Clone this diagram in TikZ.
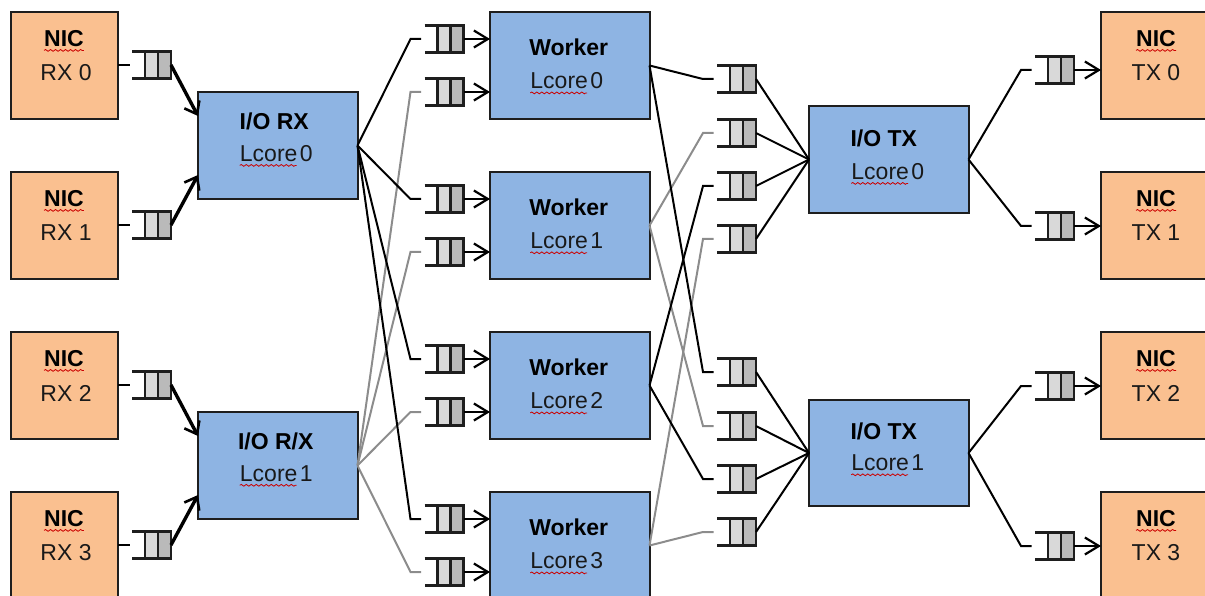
\documentclass[tikz,border=0pt]{standalone}
\usepackage{fontspec}
\setmainfont{Liberation Sans}
\usetikzlibrary{arrows.meta,decorations.pathmorphing,calc}
\definecolor{nicfill}{HTML}{FAC090}
\definecolor{corefill}{HTML}{8EB4E3}
\definecolor{edge}{HTML}{1E1E1E}
\definecolor{greyline}{HTML}{8C8C8C}
\tikzset{
  x=1pt,y=-1pt,
  box/.style={draw=edge,line width=2pt,inner sep=0pt,outer sep=0pt,anchor=north west},
  nicbox/.style={box,fill=nicfill,minimum width=107pt,minimum height=107pt},
  corebox/.style={box,fill=corefill,minimum width=159.5pt,minimum height=107pt},
  label/.style={font=\fontsize{23}{23}\selectfont,inner sep=0pt,text=black!90},
  blabel/.style={label,font=\fontsize{23}{23}\selectfont\bfseries,text=black},
  queue/.style={minimum width=39pt,minimum height=27pt,inner sep=0pt,outer sep=0pt},
  qline/.style={draw=edge,line width=2.2pt},
  blk/.style={draw=black,line width=2pt},
  gry/.style={draw=greyline,line width=2pt},
  inarrow/.style={blk,-{Straight Barb[length=14pt,width=17pt,line width=2.2pt]}},
  fatarrow/.style={draw=black,line width=3.4pt,-{Straight Barb[length=11pt,width=17pt,line width=2.6pt]}},
  squig/.style={draw=red!80!black,line width=.8pt,decorate,decoration={snake,amplitude=.9pt,segment length=5pt}}
}
% \qnode{name}{left x}{centre y}
\newcommand{\qnode}[3]{%
  \node[queue,anchor=west] (#1) at (#2,#3) {};
  \fill[black!15] ([xshift=13pt]#1.south west) rectangle ([xshift=26pt]#1.north west);
  \fill[black!27] ([xshift=26pt]#1.south west) rectangle (#1.north east);
  \draw[qline] (#1.north west) -- (#1.north east) -- (#1.south east) -- (#1.south west);
  \draw[qline] ([xshift=13pt]#1.north west) -- ([xshift=13pt]#1.south west);
  \draw[qline] ([xshift=26pt]#1.north west) -- ([xshift=26pt]#1.south west);
}
% \corelbl{box name}{title}{number}{title dx}{title dy}{sub dx}{sub dy}
\newcommand{\corelbl}[7]{%
  \node[blabel] (#1t) at ($(#1.center)+(#4,#5)$) {#2};
  \node[label] (#1l) at ($(#1.center)+(#6,#7)$) {Lcore\hspace{.1em}#3};
  \draw[squig] ($(#1l.base west)+(0,4)$) -- ++(57,0);
}
\newcommand{\niclbl}[2]{%
  \node[blabel] (#1t) at ($(#1.north west)+(#2,26.5)$) {NIC};
  \draw[squig] ($(#1t.base west)+(0,4)$) -- ++(40,0);
}
\newcommand{\elbow}[3]{\draw[#1] (#2) -- ([xshift=-14pt]#3.west) -- ([xshift=-3.5pt]#3.west);}
\begin{document}
\begin{tikzpicture}
\clip (0,0) rectangle (1205,596);
% NIC RX
\foreach \n/\y/\t in {0/12/RX 0,1/172/RX 1,2/332/RX 2,3/492/RX 3}{
  \node[nicbox] (rx\n) at (11,\y) {};
  \niclbl{rx\n}{53}
  \node[label] (rx\n l) at ($(rx\n.north west)+(55,61)$) {\t};
}
% NIC TX
\foreach \n/\y/\t in {0/12/TX 0,1/172/TX 1,2/332/TX 2,3/492/TX 3}{
  \node[nicbox,minimum width=114pt] (tx\n) at (1101,\y) {};
  \niclbl{tx\n}{55}
  \node[label] (tx\n l) at ($(tx\n.north west)+(55,61)$) {\t};
}
% Core boxes
\node[corebox] (iorx0) at (198,92) {};  \corelbl{iorx0}{I/O RX}{0}{-3.5}{-24}{-1.5}{8}
\node[corebox] (iorx1) at (198,412) {}; \corelbl{iorx1}{I/O R/X}{1}{-2}{-24}{-1.5}{8}
\foreach \n/\y in {0/12,1/172,2/332,3/492}{
  \node[corebox] (w\n) at (490,\y) {};
  \corelbl{w\n}{Worker}{\n}{-1}{-18}{-3}{15.5}
}
\node[corebox] (iotx0) at (809,106) {}; \corelbl{iotx0}{I/O TX}{0}{-5}{-21}{-1}{12}
\node[corebox,minimum height=106pt] (iotx1) at (809,400) {}; \corelbl{iotx1}{I/O TX}{1}{-5}{-22}{-1}{10}
% Queues
\foreach \n/\y in {0/65,1/225,2/385,3/545}{\qnode{qr\n}{132}{\y}}
\foreach \n/\y in {a/39,b/92,c/199,d/252,e/359,f/412,g/519,h/572}{\qnode{qw\n}{424.5}{\y}}
\foreach \n/\y in {a/79,b/133,c/186,d/239,e/372,f/426,g/479,h/532}{\qnode{qo\n}{717}{\y}}
\foreach \n/\y in {0/70,1/226,2/386,3/546}{\qnode{qt\n}{1035}{\y}}
% NIC RX to queues
\foreach \n in {0,1,2,3}{\draw[blk] (rx\n.east |- qr\n.west) -- ([xshift=-2pt]qr\n.west);}
\draw[fatarrow] (qr0.east) -- ($(iorx0.north west)+(0,24)$);
\draw[fatarrow] (qr1.east) -- ($(iorx0.south west)+(0,-24)$);
\draw[fatarrow] (qr2.east) -- ($(iorx1.north west)+(0,24)$);
\draw[fatarrow] (qr3.east) -- ($(iorx1.south west)+(0,-24)$);
% IO RX to worker queues
\foreach \q in {b,d,f,h}{\elbow{gry}{iorx1.east}{qw\q}}
\foreach \q in {a,c,e,g}{\elbow{blk}{iorx0.east}{qw\q}}
% Worker queues into workers
\draw[inarrow] (qwa.east) -- (w0.west |- qwa.east);
\draw[inarrow] (qwb.east) -- (w0.west |- qwb.east);
\draw[inarrow] (qwc.east) -- (w1.west |- qwc.east);
\draw[inarrow] (qwd.east) -- (w1.west |- qwd.east);
\draw[inarrow] (qwe.east) -- (w2.west |- qwe.east);
\draw[inarrow] (qwf.east) -- (w2.west |- qwf.east);
\draw[inarrow] (qwg.east) -- (w3.west |- qwg.east);
\draw[inarrow] (qwh.east) -- (w3.west |- qwh.east);
% Workers to output queues
\foreach \w/\q in {w1/b,w1/f,w3/d,w3/h}{\elbow{gry}{\w.east}{qo\q}}
\foreach \w/\q in {w0/a,w0/e,w2/c,w2/g}{\elbow{blk}{\w.east}{qo\q}}
% Output queues to IO TX
\foreach \q in {a,b,c,d}{\draw[blk] (qo\q.east) -- (iotx0.west);}
\foreach \q in {e,f,g,h}{\draw[blk] (qo\q.east) -- (iotx1.west);}
% IO TX to TX queues
\elbow{blk}{iotx0.east}{qt0}
\elbow{blk}{iotx0.east}{qt1}
\elbow{blk}{iotx1.east}{qt2}
\elbow{blk}{iotx1.east}{qt3}
% TX queues into NIC TX
\foreach \n in {0,1,2,3}{\draw[inarrow] (qt\n.east) -- (tx\n.west |- qt\n.east);}
\end{tikzpicture}
\end{document}
